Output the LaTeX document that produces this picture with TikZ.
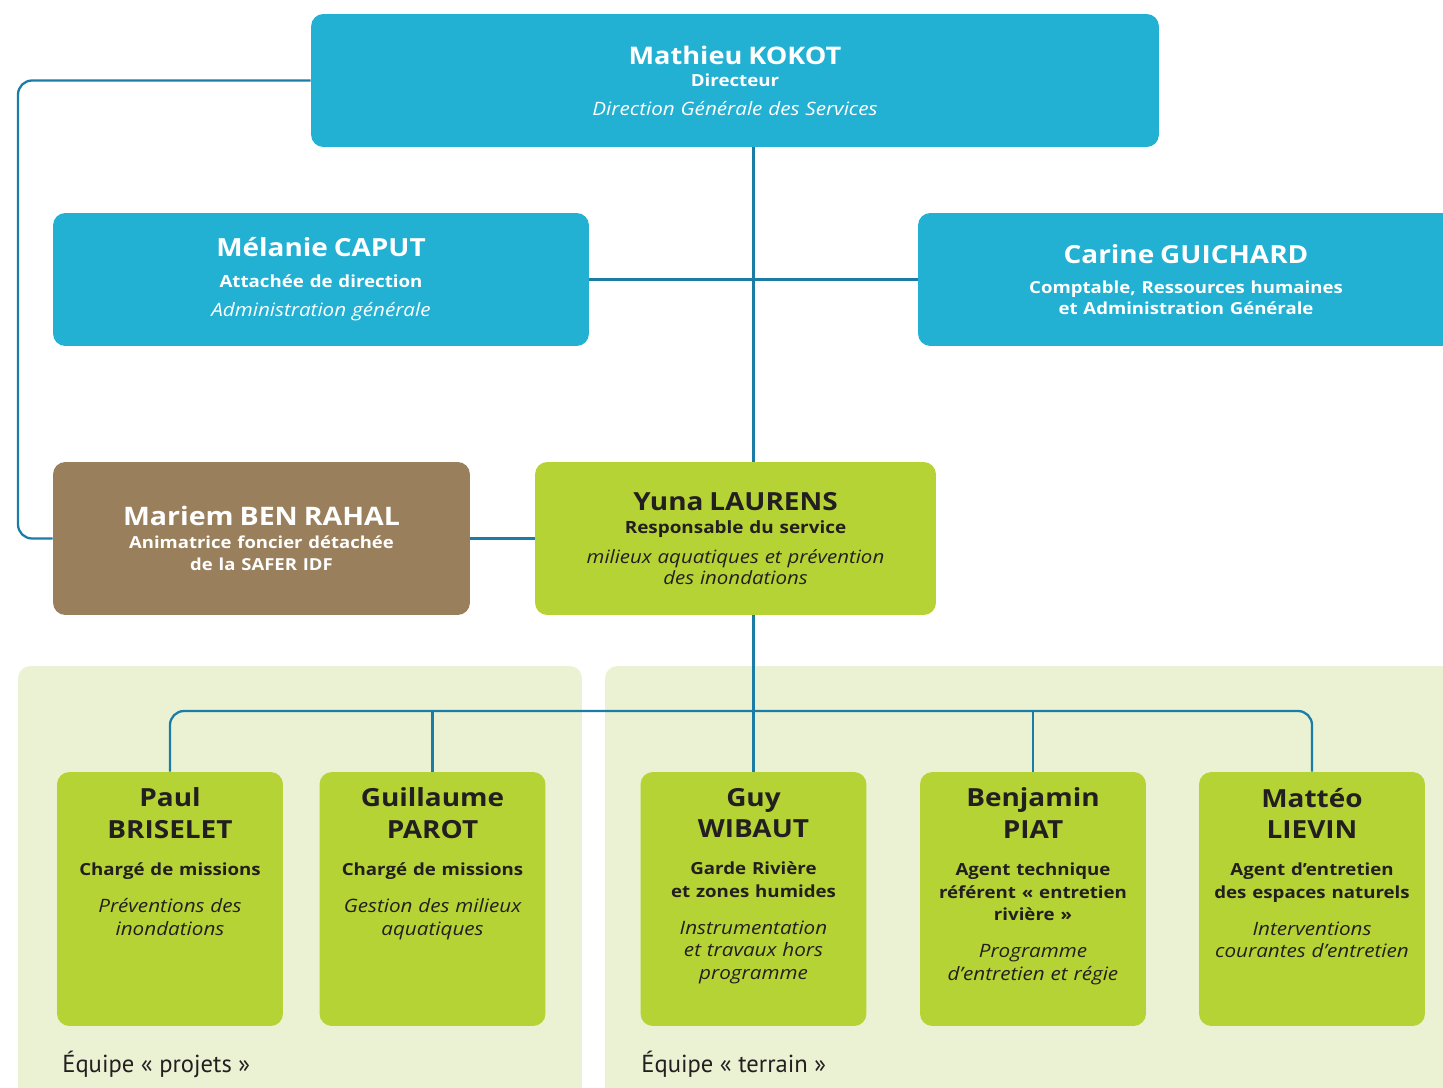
\documentclass[tikz,border=0pt]{standalone}
\usepackage{fontspec}
\setmainfont{Open Sans}[FakeStretch=1.12]
\newfontfamily\teamfont{PT Sans}

\definecolor{orgblue}{HTML}{22B0D3}
\definecolor{orgline}{HTML}{1B7DA6}
\definecolor{orgbrown}{HTML}{9A7F5C}
\definecolor{orggreen}{HTML}{B5D334}
\definecolor{orgpanel}{HTML}{EBF2D3}
\definecolor{orgtext}{HTML}{231F20}

% font shortcuts: size, baselineskip
\newcommand\nm[2]{\fontsize{#1}{#2}\selectfont\bfseries}
\newcommand\rl[2]{\fontsize{#1}{#2}\selectfont\bfseries}
\newcommand\ds[2]{\fontsize{#1}{#2}\selectfont\itshape}

\pgfdeclarelayer{panels}
\pgfdeclarelayer{links}
\pgfsetlayers{panels,links,main}

\begin{document}
\begin{tikzpicture}[x=0.02cm, y=-0.02cm,
		card/.style={rounded corners=7pt, inner sep=0pt, align=center, text width=7.8cm},
		bluecard/.style={card, fill=orgblue, text=white, minimum height=2.66cm},
		greencard/.style={card, fill=orggreen, text=orgtext},
		member/.style={greencard, minimum width=4.52cm, minimum height=5.08cm, text width=4cm},
		membertext/.style={anchor=north, inner sep=0pt, align=center, text width=5cm, text=orgtext},
		panel/.style={fill=orgpanel, rounded corners=7pt, inner sep=0pt},
		teamlabel/.style={anchor=base west, inner sep=0pt, text=orgtext, font=\teamfont\fontsize{14}{16}\selectfont},
		link/.style={draw=orgline, line width=1.3pt, rounded corners=8pt}]
	\useasboundingbox (0,0) rectangle (1443,1088);

	% team panels
	\begin{pgfonlayer}{panels}
		\node[panel, minimum width=11.28cm, minimum height=8.68cm] (projets) at (300,883) {};
		\node[panel, minimum width=17.1cm, minimum height=8.68cm] (terrain) at (1032.5,883) {};
	\end{pgfonlayer}
	\node[teamlabel] (projets-label) at (62,1072) {Équipe «~projets~»};
	\node[teamlabel] (terrain-label) at (641,1072) {Équipe «~terrain~»};

	% direction
	\node[bluecard, minimum width=16.96cm] (kokot) at (735,80.5) {%
		{\nm{13.8}{17}Mathieu KOKOT\par}
		{\rl{9.5}{12.5}Directeur\par}
		{\ds{10.5}{16.5}Direction Générale des Services\par}};
	\node[bluecard, minimum width=10.72cm] (caput) at (321,279.5) {%
		{\nm{14.2}{18}Mélanie CAPUT\par}
		{\rl{9.5}{17.2}Attachée de direction\par}
		{\ds{10.5}{17}Administration générale\par}};
	\node[bluecard, minimum width=10.72cm] (guichard) at (1186,279.5) {%
		{\nm{14.2}{17}Carine GUICHARD\par}\vskip5pt
		{\rl{9.45}{12}Comptable, Ressources humaines\\et Administration Générale\par}};
	\node[card, fill=orgbrown, text=white, minimum width=8.34cm, minimum height=3.06cm] (benrahal) at (261.5,538.5) {%
		{\nm{14.5}{18}Mariem BEN RAHAL\par}
		{\rl{9.4}{12.7}Animatrice foncier détachée\\de la SAFER IDF\par}};
	\node[greencard, minimum width=8.02cm, minimum height=3.06cm] (laurens) at (735.5,538.5) {%
		{\nm{14.2}{17}Yuna LAURENS\par}
		{\rl{9.6}{12.8}Responsable du service\par}\vskip5.3pt
		{\ds{10.4}{11.9}milieux aquatiques et prévention\\des inondations\par}};

	% equipe projets
	\node[member] (paul) at (170,899) {};
	\node[member] (guillaume) at (432.5,899) {};
	% equipe terrain
	\node[member] (guy) at (753.5,899) {};
	\node[member] (benjamin) at (1033,899) {};
	\node[member] (matteo) at (1312,899) {};

	\node[membertext] (paul-txt) at ([yshift=-0.32cm]paul.north) {%
		{\nm{14.2}{18.1}Paul\\BRISELET\par}\vskip8.2pt
		{\rl{9.5}{12.8}Chargé de missions\par}\vskip8.2pt
		{\ds{10.5}{12.8}Préventions des\\inondations\par}};
	\node[membertext] (guillaume-txt) at ([yshift=-0.32cm]guillaume.north) {%
		{\nm{14.2}{18.1}Guillaume\\PAROT\par}\vskip8.2pt
		{\rl{9.5}{12.8}Chargé de missions\par}\vskip8.2pt
		{\ds{10.5}{12.8}Gestion des milieux\\aquatiques\par}};
	\node[membertext] (guy-txt) at ([yshift=-0.32cm]guy.north) {%
		{\nm{14.2}{18.1}Guy\\WIBAUT\par}\vskip8.2pt
		{\rl{9.5}{12.8}Garde Rivière\\et zones humides\par}\vskip8.2pt
		{\ds{10.5}{12.8}Instrumentation\\et travaux hors\\programme\par}};
	\node[membertext] (benjamin-txt) at ([yshift=-0.32cm]benjamin.north) {%
		{\nm{14.2}{18.1}Benjamin\\PIAT\par}\vskip8.2pt
		{\rl{9.5}{12.8}Agent technique\\référent «~entretien\\rivière~»\par}\vskip8.2pt
		{\ds{10.5}{12.8}Programme\\d’entretien et régie\par}};
	\node[membertext] (matteo-txt) at ([yshift=-0.32cm]matteo.north) {%
		{\nm{14.2}{18.1}Mattéo\\LIEVIN\par}\vskip8.2pt
		{\rl{9.5}{12.8}Agent d’entretien\\des espaces naturels\par}\vskip8.2pt
		{\ds{10.5}{12.8}Interventions\\courantes d’entretien\par}};

	% links
	\begin{pgfonlayer}{links}
		\coordinate (loop) at (18,0);
		\coordinate (bus) at (752,711);
		\draw[link] (kokot.south -| guy.north) -- (guy.north);
		\draw[link] (caput.east) -- (guichard.west);
		\draw[link] (benrahal.east) -- (laurens.west);
		\draw[link] (kokot.west) -| (loop |- benrahal.west) -- (benrahal.west);
		\draw[link] (paul.north) |- (bus) -| (matteo.north);
		\draw[link] (guillaume.north) -- (guillaume.north |- bus);
		\draw[link] (benjamin.north) -- (benjamin.north |- bus);
	\end{pgfonlayer}
\end{tikzpicture}
\end{document}
